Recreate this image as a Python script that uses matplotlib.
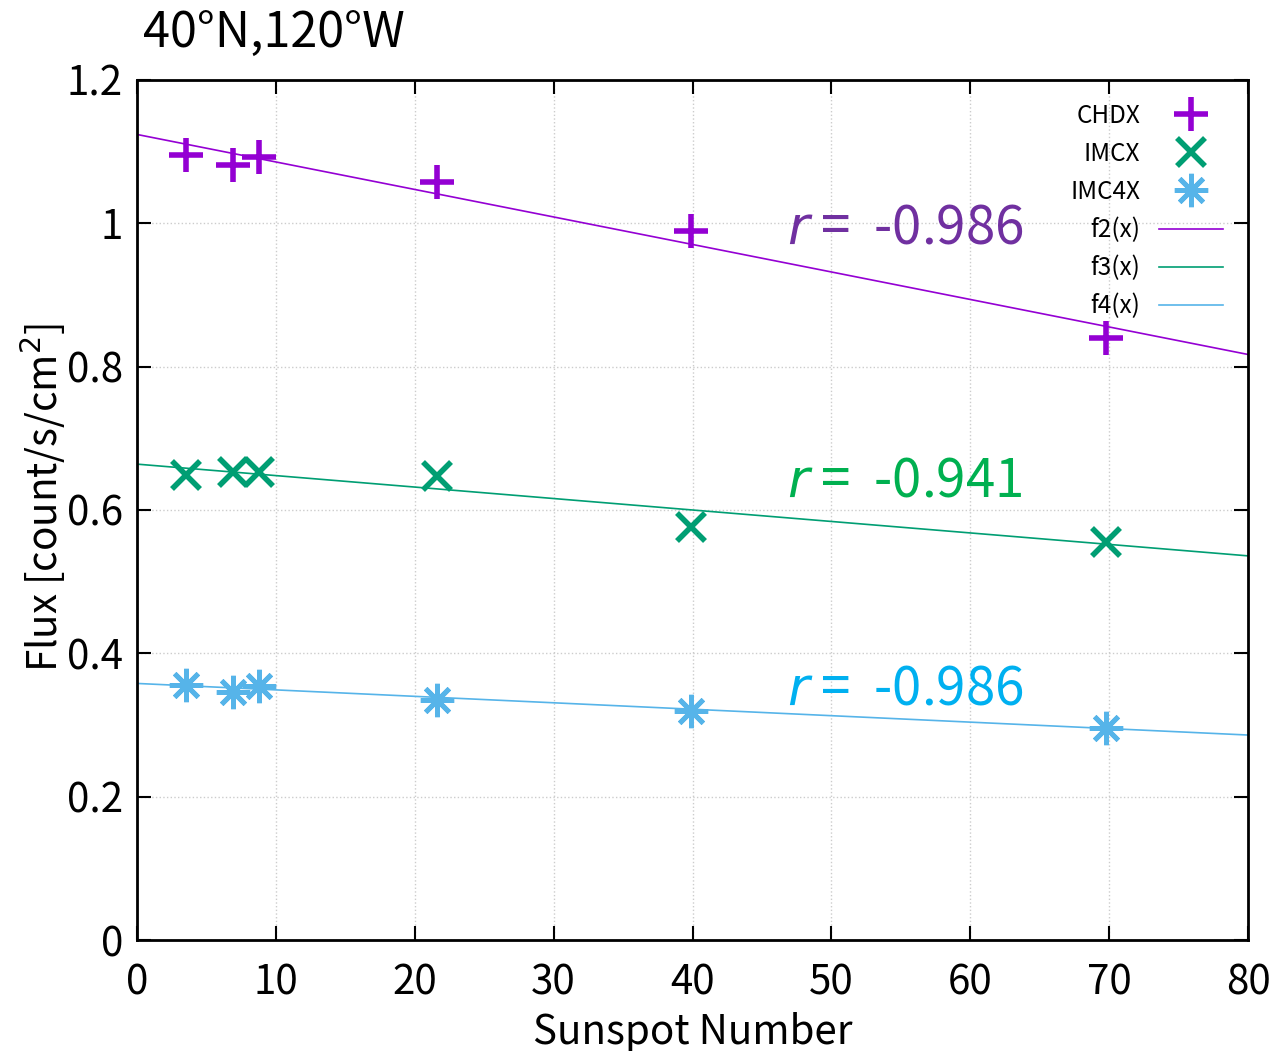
import matplotlib
matplotlib.use('Agg')
import matplotlib.pyplot as plt
import numpy as np

plt.rcParams['font.family'] = ['Noto Sans CJK JP', 'DejaVu Sans']

# sunspot number and flux values
ssn = [3.5, 6.9, 8.8, 21.6, 39.9, 69.8]
chdx = [1.095, 1.081, 1.093, 1.057, 0.989, 0.840]
imcx = [0.649, 0.653, 0.653, 0.647, 0.576, 0.556]
imc4x = [0.356, 0.346, 0.354, 0.335, 0.319, 0.296]

# fitted lines (value at x=0 and x=80)
fit_x = [0, 80]
f2 = [1.124, 0.817]
f3 = [0.664, 0.536]
f4 = [0.358, 0.286]

r_labels = ['-0.986', '-0.941', '-0.986']
r_pos_y = [0.993, 0.64, 0.35]

fig = plt.figure(figsize=(12.79, 10.51), dpi=100)
ax = fig.add_axes([0.1071, 0.1056, 0.8687, 0.8183])

c_pts = ['#9400D3', '#009E73', '#56B4E9']
c_txt = ['#7030A0', '#00B050', '#00B0F0']

ax.plot(ssn, chdx, ls='none', marker='+', ms=24, mew=4, color=c_pts[0], label='CHDX')
ax.plot(ssn, imcx, ls='none', marker='x', ms=20, mew=4, color=c_pts[1], label='IMCX')
ax.plot(ssn, imc4x, ls='none', marker=(8, 2, 0), ms=24, mew=3.5, color=c_pts[2], label='IMC4X')
ax.plot(fit_x, f2, color=c_pts[0], lw=1.2, label='f2(x)')
ax.plot(fit_x, f3, color=c_pts[1], lw=1.2, label='f3(x)')
ax.plot(fit_x, f4, color=c_pts[2], lw=1.2, label='f4(x)')

for lab, yy, col in zip(r_labels, r_pos_y, c_txt):
    ax.text(55.3, yy, r'$r$ =  ' + lab, color=col, fontsize=38, ha='center', va='center')

ax.set_xlim(0, 80)
ax.set_ylim(0, 1.2)
ax.set_xticks(np.arange(0, 81, 10))
ax.set_yticks([0, 0.2, 0.4, 0.6, 0.8, 1, 1.2])
ax.set_yticklabels(['0', '0.2', '0.4', '0.6', '0.8', '1', '1.2'])
ax.tick_params(direction='in', length=10, width=1.5, labelsize=29, top=True, right=True)
ax.tick_params(axis='x', pad=16)
ax.tick_params(axis='y', pad=10)
ax.grid(True, ls=':', color='#cccccc', lw=1)
for s in ax.spines.values():
    s.set_linewidth(2)

ax.set_xlabel('Sunspot Number', fontsize=29, labelpad=6)
ax.set_ylabel('Flux [count/s/cm$^2$]', fontsize=29)
ax.yaxis.set_label_coords(-0.062, 0.515)
fig.text(0.112, 0.968, '40°N,120°W', fontsize=35, ha='left', va='center')

ax.legend(loc='upper right', markerfirst=False, frameon=False, fontsize=17.5,
          handlelength=2.6, labelspacing=0.5, borderaxespad=0.6, handletextpad=0.8,
          bbox_to_anchor=(0.999, 1.002))

fig.savefig('out.png', dpi=100)
